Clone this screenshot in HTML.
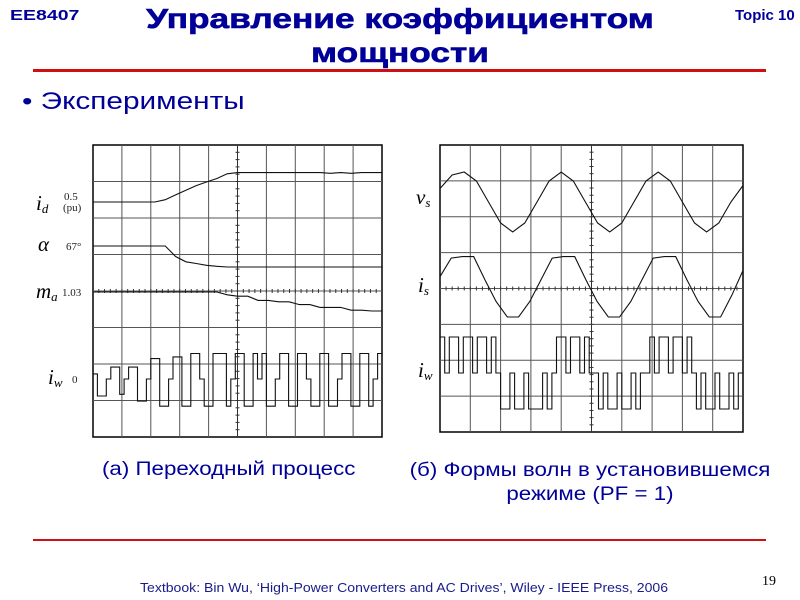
<!DOCTYPE html>
<html><head><meta charset="utf-8">
<style>
body{margin:0;width:800px;height:600px;background:#fff;overflow:hidden;position:relative;font-family:"Liberation Sans",sans-serif}
.a{position:absolute;white-space:nowrap}
</style></head><body>
<div class="a" style="left:10px;top:7px;font-size:15px;font-weight:bold;color:#000099;transform:scaleX(1.3);transform-origin:left">EE8407</div>
<div class="a" style="left:735px;top:7px;font-size:15px;font-weight:bold;color:#000099">Topic 10</div>
<div class="a" style="left:150px;width:500px;top:2px;text-align:center;font-size:28px;line-height:34px;font-weight:bold;color:#000099;transform:scaleX(1.26);transform-origin:center;-webkit-text-stroke:0.6px #000099">Управление коэффициентом<br>мощности</div>
<div class="a" style="left:33px;top:69px;width:733px;height:3px;background:#d01010"></div>
<div class="a" style="left:22px;top:88px;font-size:24px;color:#000099;transform:scaleX(1.24);transform-origin:left">• Эксперименты</div>
<svg class="a" style="left:0;top:0" width="800" height="600">
<g id="L"></g>
<g id="R"></g>
<g font-family="Liberation Serif,serif" font-style="italic" font-size="21">
<text x="36" y="210">i<tspan font-size="13" dy="3">d</tspan></text>
<text x="38" y="251">α</text>
<text x="36" y="298">m<tspan font-size="13" dy="3">a</tspan></text>
<text x="48" y="384">i<tspan font-size="13" dy="3">w</tspan></text>
<text x="416" y="204">v<tspan font-size="13" dy="3">s</tspan></text>
<text x="418" y="292">i<tspan font-size="13" dy="3">s</tspan></text>
<text x="418" y="377">i<tspan font-size="13" dy="3">w</tspan></text>
</g>
<g font-family="Liberation Serif,serif" font-size="11" fill="#222">
<text x="64" y="200">0.5</text><text x="63" y="211">(pu)</text>
<text x="66" y="250">67°</text>
<text x="62" y="296">1.03</text>
<text x="72" y="383">0</text>
</g>
</svg>
<div class="a" style="left:102px;top:459px;font-size:19px;color:#000099;transform:scaleX(1.175);transform-origin:left">(а) Переходный процесс</div>
<div class="a" style="left:435px;width:310px;top:459px;font-size:19px;line-height:24px;color:#000099;text-align:center;white-space:normal;transform:scaleX(1.175);transform-origin:center">(б) Формы волн в установившемся режиме (PF = 1)</div>
<div class="a" style="left:33px;top:539px;width:733px;height:2px;background:#d01010"></div>
<div class="a" style="left:140px;top:580px;font-size:13px;color:#1a1a8c;transform:scaleX(1.08);transform-origin:left">Textbook: Bin Wu, ‘High-Power Converters and AC Drives’, Wiley - IEEE Press, 2006</div>
<div class="a" style="left:762px;top:574px;font-size:14px;font-family:'Liberation Serif',serif">19</div>
<script>
// Left (transient) traces, values in divisions relative to reference level
const idVals=[0,0,0,0,0,0,0,0.1,0.3,0.5,0.7,0.85,1.0,1.2,1.25,1.25,1.25,1.25,1.25,1.25,1.25,1.25,1.25,1.22,1.25,1.22,1.25,1.25,1.25];
const alphaVals=[0,0,0,0,0,0,0,0,-0.3,-0.45,-0.5,-0.55,-0.58,-0.6,-0.6,-0.6,-0.6,-0.6,-0.6,-0.6,-0.6,-0.6,-0.6,-0.6,-0.6,-0.6,-0.6,-0.6,-0.6];
const maVals=[0,0,0,0,0,0,0,0,0,0,0,0,0,-0.1,-0.15,-0.15,-0.3,-0.3,-0.35,-0.35,-0.45,-0.45,-0.55,-0.55,-0.55,-0.65,-0.65,-0.68,-0.68];
const iwLeftVals=[0.3,-1,-1,0,0.7,0.7,-0.9,0,0.7,0.7,-1.3,-1.3,0,1.2,1.2,-1.6,-1.6,0,1.3,1.3,-1.6,-1.6,1.5,1.5,0,-1.6,-1.6,1.5,1.5,1.5,-1.6,0,1.5,1.5,-1.6,-1.6,1.5,0,1.5,-1.6,-1.6,0,1.5,1.5,-1.6,-1.6,1.5,1.5,0,-1.6,-1.6,1.5,1.5,-1.6,-1.6,0,1.5,1.5,-1.6,-1.6,1.5,1.5,-1.6,0,1.5];
// Right (steady state) traces
const vsVals=[0.45,0.9,1.0,0.7,0.0,-0.7,-1.0,-0.7,0.0,0.7,1.0,0.7,0.0,-0.7,-1.0,-0.7,0.0,0.7,1.0,0.7,0.0,-0.7,-1.0,-0.7,0.0,0.55];
const isVals=[0.3,0.9,0.95,0.95,0.2,-0.5,-1.0,-1.0,-0.5,0.2,0.9,0.95,0.95,0.2,-0.5,-1.0,-1.0,-0.5,0.2,0.9,0.95,0.95,0.2,-0.5,-1.0,-1.0,-0.3,0.5];
const iwRightVals=[1,0,1,1,0,1,1,0,1,1,0,1,0,-1,-1,0,-1,-1,0,-1,-1,-1,0,-1,0,1,1,0,1,1,0,1,0,0,-1,0,-1,-1,0,-1,-1,0,-1,0,0,1,0,1,1,0,1,1,0,1,0,-1,0,-1,-1,0,-1,-1,0,-1,0];
const NS="http://www.w3.org/2000/svg";
function mk(p,t,a){const e=document.createElementNS(NS,t);for(const k in a)e.setAttribute(k,a[k]);p.appendChild(e);return e;}
function scope(g,x0,y0,w,h){
  const bg=mk(g,'rect',{x:x0,y:y0,width:w,height:h,fill:'#fff',stroke:'#000','stroke-width':1.5});
  
  
  for(let i=1;i<10;i++){const x=x0+w*i/10;mk(g,'line',{x1:x,y1:y0,x2:x,y2:y0+h,stroke:i==5?'#333':'#555','stroke-width':1});}
  for(let j=1;j<8;j++){const y=y0+h*j/8;mk(g,'line',{x1:x0,y1:y,x2:x0+w,y2:y,stroke:'#555','stroke-width':1});}
  for(let k=1;k<50;k++){const x=x0+w*k/50;mk(g,'line',{x1:x,y1:y0+h/2-2,x2:x,y2:y0+h/2+2,stroke:'#333'});}
  for(let k=1;k<40;k++){const y=y0+h*k/40;mk(g,'line',{x1:x0+w/2-2,y1:y,x2:x0+w/2+2,y2:y,stroke:'#333'});}
}
function trace(g,vals,x0,w,yRef,unit,step,name){
  const n=vals.length;let d='';
  vals.forEach((v,i)=>{
    const xa=x0+w*i/n, xb=x0+w*(i+1)/n, y=yRef-v*unit;
    if(step){d+=(i?'L':'M')+xa.toFixed(1)+','+y.toFixed(1)+'L'+xb.toFixed(1)+','+y.toFixed(1);}
    else{const x=x0+w*i/(n-1);d+=(i?'L':'M')+x.toFixed(1)+','+y.toFixed(1);}
  });
  const p=mk(g,'path',{d:d,fill:'none',stroke:'#111','stroke-width':1.1});
  
  
}
const L=document.getElementById('L'),R=document.getElementById('R');
scope(L,93,145,289,292);
trace(L,idVals,93,289,202,23.5,false,'trace-id');
trace(L,alphaVals,93,289,246,35,false,'trace-alpha');
trace(L,maVals,93,289,292,28,false,'trace-ma');
trace(L,iwLeftVals,93,289,379,17,true,'trace-iw-left');
scope(R,440,145,303,287);
trace(R,vsVals,440,303,202,30,false,'trace-vs');
trace(R,isVals,440,303,286,31,false,'trace-is');
trace(R,iwRightVals,440,303,373,36,true,'trace-iw-right');
</script>
</body></html>
